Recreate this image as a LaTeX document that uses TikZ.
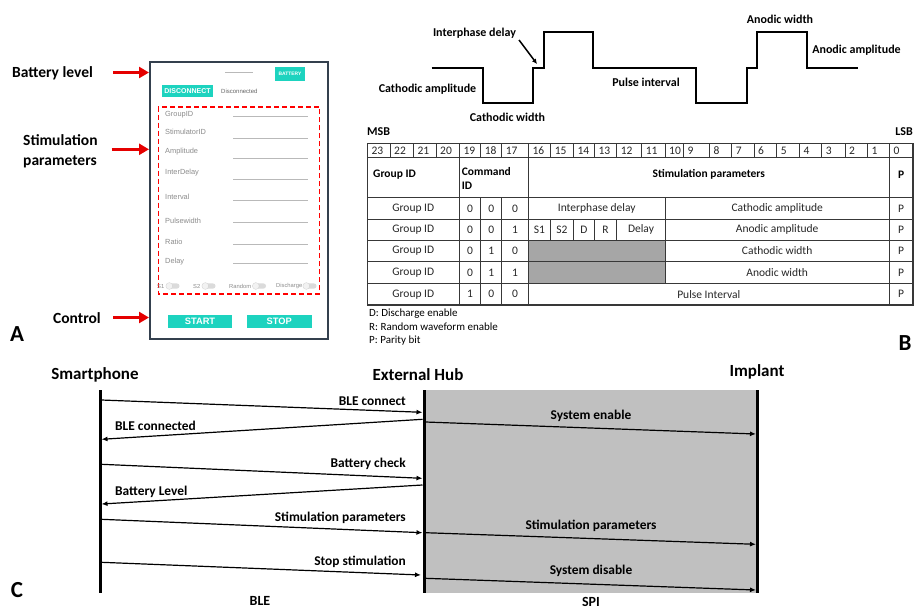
\documentclass[tikz,border=0pt]{standalone}
\usepackage{fontspec}
\setmainfont{Carlito}
\newfontfamily\uifont{Liberation Sans}
\usetikzlibrary{arrows.meta}
\definecolor{tealbtn}{HTML}{1DD3BF}
\definecolor{phoneframe}{HTML}{34404E}
\definecolor{uigray}{HTML}{8C8C8C}
\definecolor{hubgray}{HTML}{C0C0C0}
\definecolor{cellgray}{HTML}{A6A6A6}
\definecolor{tabline}{HTML}{383838}
\begin{document}
\begin{tikzpicture}[x=1pt,y=-1pt,
  lab/.style={font=\fontsize{15.5}{20}\selectfont\bfseries, inner sep=0pt},
  panellab/.style={font=\fontsize{23}{26}\selectfont\bfseries, inner sep=0pt},
  redarrow/.style={red!90!black, line width=2.6pt, -{Triangle[length=10pt,width=11pt]}},
  btn/.style={fill=tealbtn, text=white, inner sep=0pt, font=\uifont\bfseries},
  field/.style={font=\uifont\fontsize{7.4}{8}\selectfont, text=uigray, inner sep=0pt, anchor=west},
  fieldline/.style={gray!55, line width=0.7pt},
  tog/.style={font=\uifont\fontsize{5.8}{6}\selectfont, text=uigray, inner sep=0pt, anchor=west},
  wave/.style={line width=1.8pt, line join=miter},
  wlab/.style={font=\fontsize{12}{14}\selectfont\bfseries, inner sep=0pt},
  cell/.style={font=\fontsize{11.5}{14}\selectfont, inner sep=0pt, text=black!85},
  hcell/.style={font=\fontsize{11.5}{14}\selectfont\bfseries, inner sep=0pt},
  tline/.style={tabline, line width=0.9pt},
  tthick/.style={tabline, line width=1.5pt},
  legend/.style={font=\fontsize{11}{12}\selectfont, inner sep=0pt, anchor=west},
  actor/.style={font=\fontsize{17}{20}\selectfont\bfseries, inner sep=0pt},
  msg/.style={font=\fontsize{13.4}{15}\selectfont\bfseries, inner sep=0pt},
  msgline/.style={line width=1.2pt, -{Latex[length=6pt,width=5pt]}},
  lifeline/.style={line width=3pt}
]
\useasboundingbox (0,0) rectangle (915,611);

% ================= Panel A =================
\node[lab, anchor=west] (blab) at (12,73) {Battery level};
\node[lab, anchor=west, align=left] (slab) at (23,151) {Stimulation\\parameters};
\node[lab, anchor=west] (clab) at (53,318) {Control};
\node[panellab] (A) at (17,334.5) {A};

\node[draw=phoneframe, line width=2.2pt, fill=white, minimum width=178.6pt, minimum height=276.7pt, inner sep=0pt] (phone) at (239,200.6) {};

\coordinate (ba1) at (113,72.5);  \coordinate (ba2) at (149,72.5);
\coordinate (sa1) at (111.7,149.3); \coordinate (sa2) at (149,149.3);
\coordinate (ca1) at (113,317.5); \coordinate (ca2) at (149,317.5);
\draw[redarrow] (ba1) -- (ba2);
\draw[redarrow] (sa1) -- (sa2);
\draw[redarrow] (ca1) -- (ca2);

\coordinate (tl1) at (225,72.3); \coordinate (tl2) at (253,72.3);
\draw[gray!55, line width=0.8pt] (tl1) -- (tl2);
\node[btn, minimum width=30pt, minimum height=14pt, font=\uifont\bfseries\fontsize{4.9}{5}\selectfont] (batt) at (290,74) {BATTERY};
\node[btn, minimum width=51pt, minimum height=12.5pt, font=\uifont\bfseries\fontsize{7}{8}\selectfont] (disc) at (187.5,91) {DISCONNECT};
\node[field, font=\uifont\fontsize{6}{7}\selectfont, text=black!60] (discd) at (221,91) {Disconnected};

\draw[red, line width=1.6pt, dash pattern=on 5pt off 3pt] (158.3,106.7) rectangle (319.3,294);

\foreach \t/\ly/\ll [count=\i] in {GroupID/115/116, StimulatorID/131.7/138.3, Amplitude/151.7/158.7, InterDelay/172.3/179.3, Interval/196.7/200.3, Pulsewidth/220.7/222.3, Ratio/242.3/244.3, Delay/261.7/263.3}{
  \node[field] (f\i) at (165,\ly) {\t};
  \draw[fieldline] (233,\ll) -- (308,\ll);
}

\foreach \t/\lx/\ta [count=\i] in {S1/157/166, S2/193/202, Random/229/252.5, Discharge/276/303}{
  \node[tog] (t\i) at (\lx,286) {\t};
  \fill[gray!28, rounded corners=2.6pt] (\ta,283.4) rectangle (\ta+13.5,288.6);
  \draw[gray!35, fill=gray!10, line width=0.3pt] (\ta+3.3,286) circle (3.4pt);
}

\node[btn, minimum width=64.6pt, minimum height=12.7pt, font=\uifont\bfseries\fontsize{9.3}{10}\selectfont] (start) at (200,321.3) {START};
\node[btn, minimum width=65.3pt, minimum height=12.7pt, font=\uifont\bfseries\fontsize{9.3}{10}\selectfont] (stop) at (279.3,321.3) {STOP};

% ================= Panel B: waveform =================
\draw[wave] (431.7,68.3) -- (483.3,68.3) -- (483.3,103.3) -- (533.3,103.3) -- (533.3,68.3) -- (544.3,68.3) -- (544.3,31.7) -- (592.7,31.7) -- (592.7,68.3) -- (696,68.3) -- (696,103.3) -- (746.7,103.3) -- (746.7,68.3) -- (757.3,68.3) -- (757.3,31.7) -- (806.7,31.7) -- (806.7,68.3) -- (858.3,68.3);

\node[wlab] (wca) at (427.5,89) {Cathodic amplitude};
\node[wlab] (wid) at (474.5,33) {Interphase delay};
\node[wlab] (wcw) at (507.5,117) {Cathodic width};
\node[wlab] (wpi) at (646,82) {Pulse interval};
\node[wlab] (waw) at (780,19) {Anodic width};
\node[wlab] (waa) at (856.5,50) {Anodic amplitude};
\coordinate (ida) at (519,40); \coordinate (idb) at (537,64);
\draw[line width=1.5pt, -{Latex[length=5pt,width=5pt]}] (ida) -- (idb);

% ================= Panel B: table =================
\node[wlab, anchor=west] (msb) at (367,132) {MSB};
\node[wlab, anchor=east] (lsb) at (913,132) {LSB};

\fill[cellgray] (528.3,240) rectangle (665,283.3);

\foreach \yy in {157.7,197.7,219.3,240,261.7,283.3} \draw[tline] (367.3,\yy) -- (913,\yy);
\foreach \xx in {390,413.3,436,550.7,573.3,594.3,616.7,641.7,665,683.3,709.3,731.7,754,776.7,799.3,821.7,845,867.3} \draw[tline] (\xx,143.3) -- (\xx,157.7);
\foreach \xx in {480.7,501.7} \draw[tline] (\xx,143.3) -- (\xx,157.7) (\xx,197.7) -- (\xx,305);
\draw[tline] (665,197.7) -- (665,283.3);
\foreach \xx in {550.7,573.3,594.3,616.7} \draw[tline] (\xx,219.3) -- (\xx,240);
\foreach \xx in {459.3,528.3,889.3} \draw[tthick] (\xx,143.3) -- (\xx,305);
\draw[tthick] (367.3,143.3) rectangle (913,305);

\foreach \n/\lx [count=\i] in {23/367.3,22/390,21/413.3,20/436,19/459.3,18/480.7,17/501.7,16/528.3,15/550.7,14/573.3,13/594.3,12/616.7,11/641.7,10/665,9/683.3,8/709.3,7/731.7,6/754,5/776.7,4/799.3,3/821.7,2/845,1/867.3,0/889.3}
  \node[cell, anchor=west] (bit\i) at (\lx+4,150.5) {\n};

\node[hcell, anchor=west] (hg) at (373,174.3) {Group ID};
\node[hcell, anchor=north west, align=left] (hc) at (461.7,167.5) {Command\\ID};
\node[hcell] (hs) at (708.8,174.3) {Stimulation parameters};
\node[hcell] (hp) at (901.2,174.3) {P};

\foreach \a/\b/\c/\yy [count=\i] in {0/0/0/208.5, 0/0/1/229.7, 0/1/0/250.8, 0/1/1/272.5, 1/0/0/294.2}{
  \node[cell] (g\i) at (413.3,\yy) {Group ID};
  \node[cell] (ca\i) at (470,\yy) {\a};
  \node[cell] (cb\i) at (491.2,\yy) {\b};
  \node[cell] (cc\i) at (515,\yy) {\c};
  \node[cell] (p\i) at (901.2,\yy) {P};
}
\node[cell] (r1a) at (596.7,208.5) {Interphase delay};
\node[cell] (r1b) at (777.2,208.5) {Cathodic amplitude};
\node[cell] (r2a) at (539.5,229.7) {S1};
\node[cell] (r2b) at (562,229.7) {S2};
\node[cell] (r2c) at (583.8,229.7) {D};
\node[cell] (r2d) at (605.5,229.7) {R};
\node[cell] (r2e) at (641,229.7) {Delay};
\node[cell] (r2f) at (777.2,229.7) {Anodic amplitude};
\node[cell] (r3) at (777.2,250.8) {Cathodic width};
\node[cell] (r4) at (777.2,272.5) {Anodic width};
\node[cell] (r5) at (708.8,294.2) {Pulse Interval};

\node[legend] (l1) at (369,313.5) {D: Discharge enable};
\node[legend] (l2) at (369,327) {R: Random waveform enable};
\node[legend] (l3) at (369,340.5) {P: Parity bit};
\node[panellab] (B) at (905,343) {B};

% ================= Panel C =================
\fill[hubgray] (424,390) rectangle (757.7,593);
\coordinate (sp1) at (100,390);   \coordinate (sp2) at (100,593);
\coordinate (hb1) at (424,390);   \coordinate (hb2) at (424,593);
\coordinate (im1) at (757.7,390); \coordinate (im2) at (757.7,593);
\draw[lifeline] (sp1) -- (sp2);
\draw[lifeline] (hb1) -- (hb2);
\draw[lifeline] (im1) -- (im2);

\node[actor] (smart) at (95,375) {Smartphone};
\node[actor] (hub) at (418,375) {External Hub};
\node[actor] (impl) at (757,372) {Implant};
\node[actor, font=\fontsize{14}{16}\selectfont\bfseries] (ble) at (260,601) {BLE};
\node[actor, font=\fontsize{14}{16}\selectfont\bfseries] (spi) at (591,602) {SPI};
\node[panellab] (C) at (17,590) {C};

% messages smartphone <-> hub
\coordinate (m1a) at (101.5,400);   \coordinate (m1b) at (422.5,412.3);
\coordinate (m2a) at (422.5,419.3); \coordinate (m2b) at (101.5,439.3);
\coordinate (m3a) at (101.5,464.3); \coordinate (m3b) at (422.5,478.3);
\coordinate (m4a) at (422.5,485);   \coordinate (m4b) at (101.5,504);
\coordinate (m5a) at (101.5,519.3); \coordinate (m5b) at (422.5,532.7);
\coordinate (m6a) at (101.5,562.3); \coordinate (m6b) at (421,575);
\draw[msgline] (m1a) -- (m1b);
\draw[msgline] (m2a) -- (m2b);
\draw[msgline] (m3a) -- (m3b);
\draw[msgline] (m4a) -- (m4b);
\draw[msgline] (m5a) -- (m5b);
\draw[msgline] (m6a) -- (m6b);
\node[msg, anchor=east] (t1) at (406,400.7) {BLE connect};
\node[msg, anchor=west] (t2) at (115,425.7) {BLE connected};
\node[msg, anchor=east] (t3) at (406,464) {Battery check};
\node[msg, anchor=west] (t4) at (115,491.7) {Battery Level};
\node[msg, anchor=east] (t5) at (406,518.3) {Stimulation parameters};
\node[msg, anchor=east] (t6) at (406,561.7) {Stop stimulation};

% messages hub -> implant
\coordinate (n1a) at (425.5,422);   \coordinate (n1b) at (756,434);
\coordinate (n2a) at (425.5,532.7); \coordinate (n2b) at (756,544.3);
\coordinate (n3a) at (425.5,578.3); \coordinate (n3b) at (756,590);
\draw[msgline] (n1a) -- (n1b);
\draw[msgline] (n2a) -- (n2b);
\draw[msgline] (n3a) -- (n3b);
\node[msg] (u1) at (591,415.7) {System enable};
\node[msg] (u2) at (591,525.7) {Stimulation parameters};
\node[msg] (u3) at (591,570.7) {System disable};
\end{tikzpicture}
\end{document}
